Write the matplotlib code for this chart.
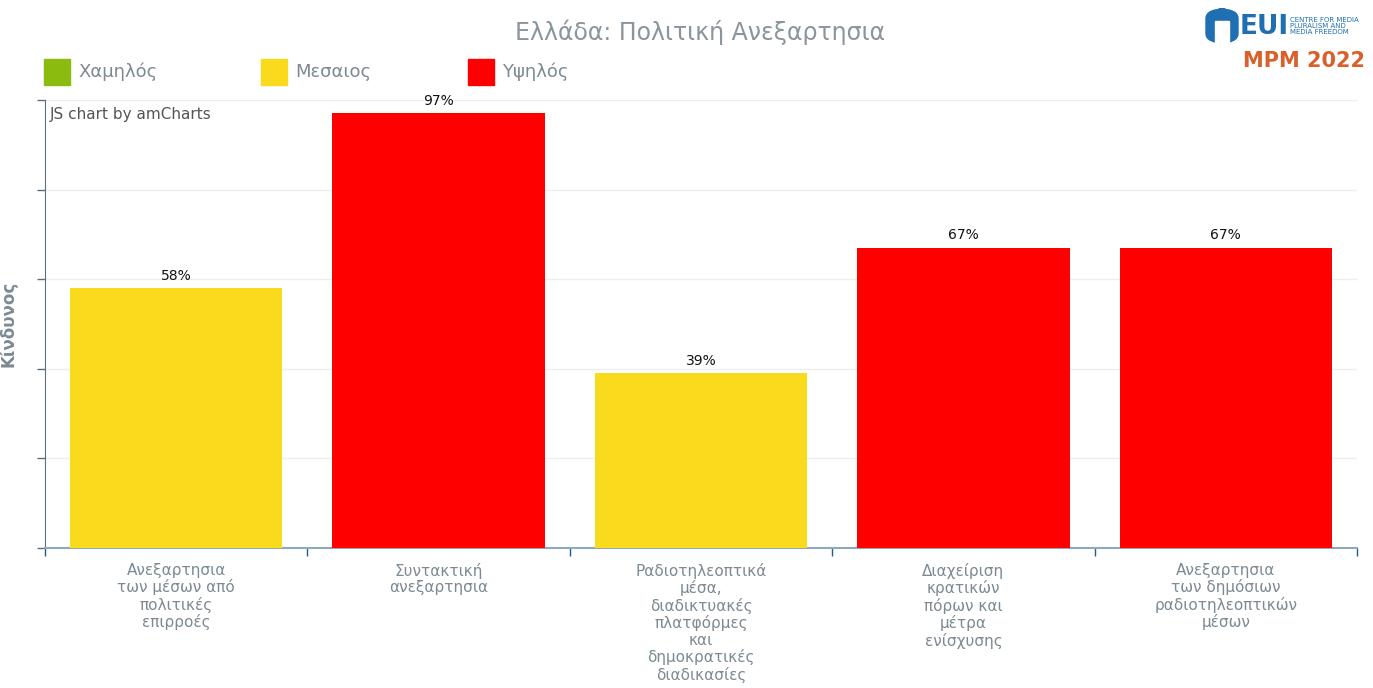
import matplotlib.pyplot as plt
import matplotlib.patches as mpatches

# data
categories = [
    "Ανεξαρτησια\nτων μέσων από\nπολιτικές\nεπιρροές",
    "Συντακτική\nανεξαρτησια",
    "Ραδιοτηλεοπτικά\nμέσα,\nδιαδικτυακές\nπλατφόρμες\nκαι\nδημοκρατικές\nδιαδικασίες",
    "Διαχείριση\nκρατικών\nπόρων και\nμέτρα\nενίσχυσης",
    "Ανεξαρτησια\nτων δημόσιων\nραδιοτηλεοπτικών\nμέσων",
]
values = [58, 97, 39, 67, 67]
risk_levels = ["Μεσαιος", "Υψηλός", "Μεσαιος", "Υψηλός", "Υψηλός"]

legend_labels = ["Χαμηλός", "Μεσαιος", "Υψηλός"]
risk_colors = {"Χαμηλός": "#8cbb0f", "Μεσαιος": "#f9da1c", "Υψηλός": "#ff0000"}

TEXT_GRAY = "#7b8a93"
AXIS_COLOR = "#5c6f7e"

fig = plt.figure(figsize=(13.73, 6.88), dpi=100)
ax = fig.add_axes([45 / 1373, 140 / 688, 1312 / 1373, 448 / 688])

x = list(range(len(categories)))
bar_colors = [risk_colors[r] for r in risk_levels]
bars = ax.bar(x, values, width=0.81, color=bar_colors, zorder=3)

for b, v in zip(bars, values):
    ax.text(b.get_x() + b.get_width() / 2, v + 1.2, f"{v}%", ha="center", va="bottom",
            fontsize=10, color="#111111")

ax.set_xlim(-0.5, len(categories) - 0.5)
ax.set_ylim(0, 100)
ax.set_yticks([0, 20, 40, 60, 80, 100])
ax.set_yticklabels([])
ax.yaxis.grid(True, color="#eeeeee", linewidth=1, zorder=0)
ax.tick_params(axis="y", length=6, color=AXIS_COLOR, width=1)

ax.set_xticks([i - 0.5 for i in range(len(categories) + 1)])
ax.set_xticklabels([])
ax.tick_params(axis="x", length=6, color="#1f5f8b", width=1)
for i, c in enumerate(categories):
    ax.text(i, -3.3, c, ha="center", va="top", fontsize=11, color=TEXT_GRAY,
            linespacing=1.12)

for s in ["top", "right"]:
    ax.spines[s].set_visible(False)
ax.spines["left"].set_color(AXIS_COLOR)
ax.spines["bottom"].set_color("#8fa9bc")
ax.spines["bottom"].set_linewidth(1.5)

ax.set_ylabel("Κίνδυνος", fontsize=12, fontweight="bold", color=TEXT_GRAY)
ax.yaxis.set_label_coords(-27 / 1312, 0.5)
ax.text(0.004, 0.985, "JS chart by amCharts", transform=ax.transAxes, ha="left", va="top",
        fontsize=11, color="#555555")

fig.text(700 / 1373, 1 - 32 / 688, "Ελλάδα: Πολιτική Ανεξαρτησια", ha="center", va="center",
         fontsize=17, color="#8a969c")

# legend
leg_x = [44, 261, 468]
for lx, lab in zip(leg_x, legend_labels):
    fig.patches.append(mpatches.Rectangle((lx / 1373, 1 - 85 / 688), 26 / 1373, 26 / 688,
                                          transform=fig.transFigure, color=risk_colors[lab]))
    fig.text((lx + 34) / 1373, 1 - 72 / 688, lab, ha="left", va="center", fontsize=13,
             color=TEXT_GRAY)

# logo
fig.patches.append(mpatches.FancyBboxPatch((1206 / 1373, 1 - 43 / 688), 32 / 1373, 34 / 688,
                                           boxstyle="round,pad=0,rounding_size=0.014",
                                           transform=fig.transFigure, color="#1f6fb2"))
fig.patches.append(mpatches.Rectangle((1215 / 1373, 1 - 43 / 688), 14 / 1373, 22 / 688,
                                      transform=fig.transFigure, color="white"))
fig.text(1240 / 1373, 1 - 27 / 688, "EUI", ha="left", va="center", fontsize=19,
         fontweight="bold", color="#1f6fb2")
fig.text(1290 / 1373, 1 - 26 / 688, "CENTRE FOR MEDIA\nPLURALISM AND\nMEDIA FREEDOM",
         ha="left", va="center", fontsize=5, color="#1f6fb2", linespacing=1.0)
fig.text(1304 / 1373, 1 - 61 / 688, "MPM 2022", ha="center", va="center", fontsize=15,
         fontweight="bold", color="#d9602a")

fig.savefig("out.png", dpi=100)
